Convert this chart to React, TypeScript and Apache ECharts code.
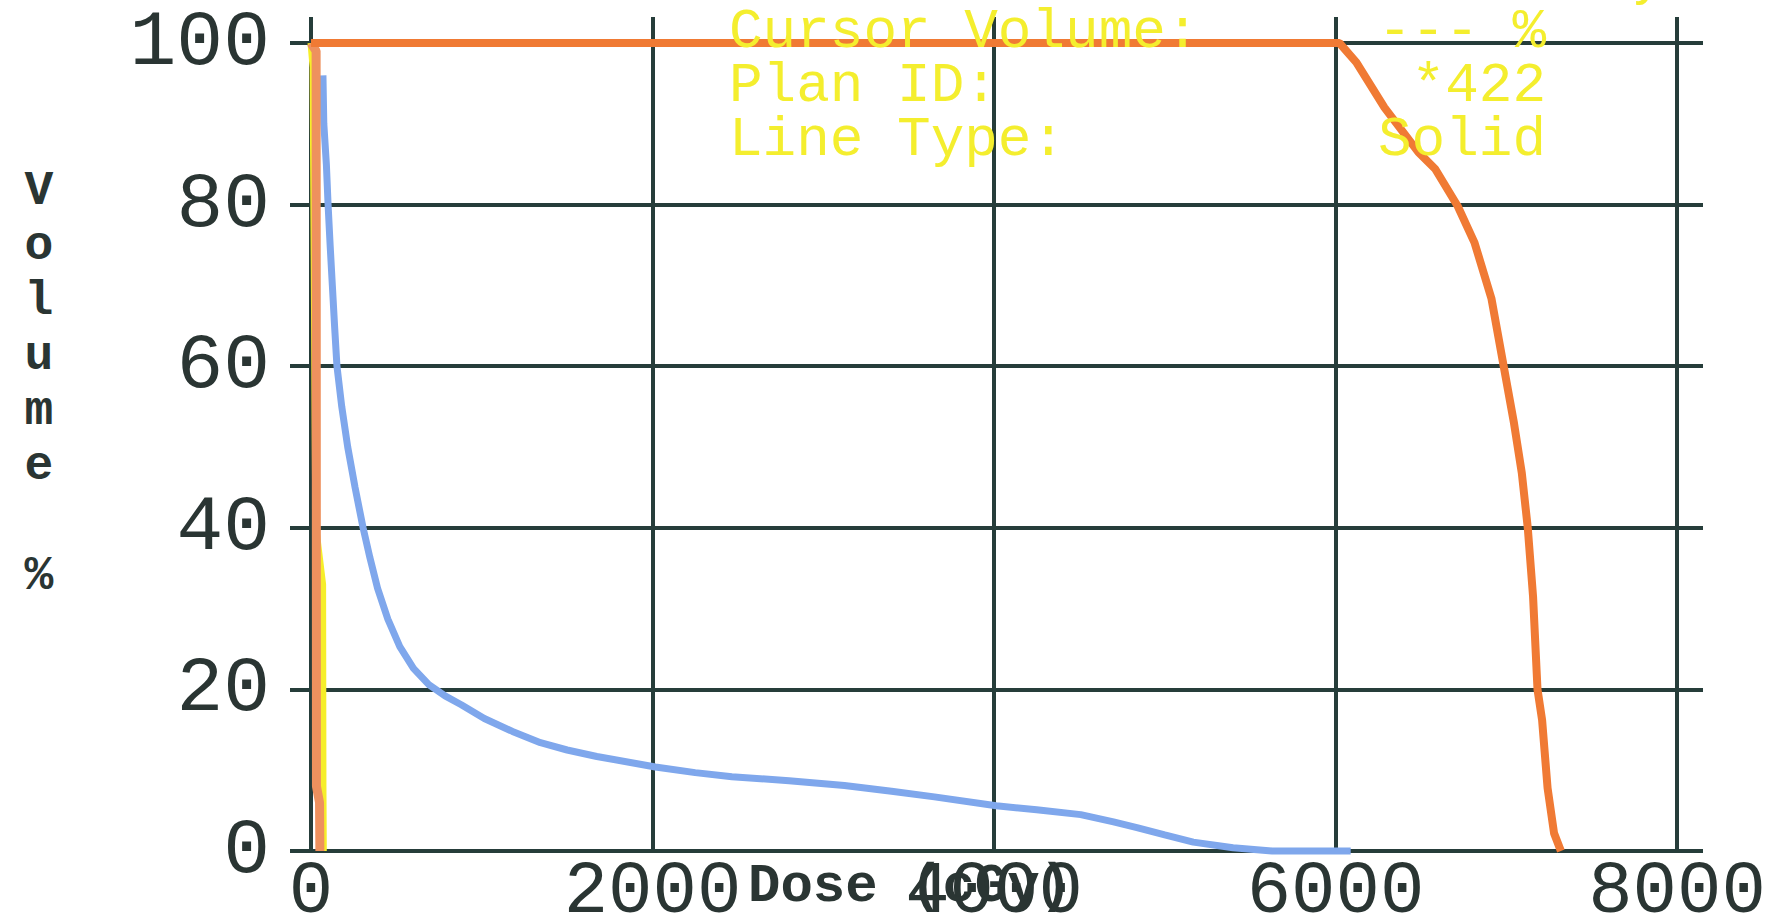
import React, { useEffect, useRef } from "react";
import * as echarts from "echarts";

// ---- data (dose in cGy, volume in %) ----
const xTicks = [0, 2000, 4000, 6000, 8000];
const yTicks = [0, 20, 40, 60, 80, 100];

const ptvDose = [0, 6023, 6122, 6287, 6485, 6584, 6716, 6814, 6913, 6985, 7045, 7091, 7126, 7157, 7183, 7210, 7242, 7280, 7320];
const ptvVolume = [100, 100, 97.6, 92, 86.5, 84.4, 79.8, 75.3, 68.4, 60, 53, 46.8, 40, 31.5, 20, 16.2, 7.8, 2.2, 0];

const lowDose = [0, 30, 32, 50, 52];
const lowVolume = [100, 99, 8, 6, 0];

const yellowDose = [0, 12, 28, 68, 70, 72];
const yellowVolume = [100, 97, 40, 33, 8, 0];

const blueDose = [70, 75, 90, 100, 112, 125, 138, 152, 180, 215, 258, 305, 345, 390, 450, 520, 600, 690, 785, 880, 1015, 1180, 1344, 1500, 1674, 2017, 2250, 2465, 2800, 3124, 3400, 3651, 4013, 4250, 4508, 4700, 4837, 5000, 5167, 5400, 5628, 6089];
const blueVolume = [96, 90, 85, 80, 75, 70, 65, 60, 55, 50, 45, 40, 36.3, 32.5, 28.7, 25.3, 22.6, 20.6, 19.2, 18.1, 16.4, 14.8, 13.4, 12.5, 11.7, 10.4, 9.7, 9.2, 8.7, 8.1, 7.4, 6.7, 5.6, 5.1, 4.5, 3.6, 2.9, 2.0, 1.1, 0.4, 0, 0];

const infoLabels = ["Cursor Dose:", "Cursor Volume:", "Plan ID:", "Line Type:"];
const infoValues = ["--- cGy", "--- %", "*422", "Solid"];

const xName = "Dose (cGy)";
const yName = "Volume %";

const zip = (xs: number[], ys: number[]) => xs.map((x, i) => [x, ys[i]]);

const GRID = "#263d3a";
const TEXT = "#2a3533";
const MONO = "'Liberation Mono', 'DejaVu Sans Mono', monospace";

export default function App() {
  const ref = useRef<HTMLDivElement>(null);
  useEffect(() => {
    if (!ref.current) return;
    const chart = echarts.init(ref.current, undefined, { renderer: "svg" });
    const rowY = [-22, 32, 86, 140];
    const graphics: any[] = [];
    infoLabels.forEach((t, i) => {
      graphics.push({
        type: "text", x: 729, y: rowY[i], z: 100,
        style: { text: t, fill: "#f4ee2e", font: `56px ${MONO}`, align: "left", verticalAlign: "middle" },
      });
      graphics.push({
        type: "text", x: i === 0 ? 1665 : 1546, y: rowY[i], z: 100,
        style: { text: infoValues[i], fill: "#f4ee2e", font: `56px ${MONO}`, align: "right", verticalAlign: "middle" },
      });
    });
    graphics.push({
      type: "text", x: 39, y: 163, z: 100,
      style: {
        text: yName.split("").map((c) => (c === " " ? "\n" : c)).join("\n").replace("\n\n\n", "\n\n"),
        fill: TEXT, font: `bold 48px ${MONO}`, align: "center", verticalAlign: "top", lineHeight: 55,
      },
    });
    graphics.push({
      type: "text", x: 748, y: 886, z: 100,
      style: { text: xName, fill: TEXT, font: `bold 54px ${MONO}`, align: "left", verticalAlign: "middle" },
    });

    const tickStyle = { color: GRID, width: 4 };
    chart.setOption({
      animation: false,
      backgroundColor: "#ffffff",
      grid: { left: 311, right: 88, top: 43, bottom: 64, containLabel: false, outerBoundsMode: "none" },
      xAxis: [
        {
          type: "value", min: xTicks[0], max: xTicks[xTicks.length - 1], interval: xTicks[1] - xTicks[0],
          axisLine: { show: false, onZero: false }, axisTick: { show: false },
          splitLine: { show: true, lineStyle: tickStyle },
          axisLabel: { fontSize: 74, fontFamily: MONO, color: TEXT, margin: 4, formatter: (v: number) => String(v) },
        },
        {
          type: "value", position: "top", min: xTicks[0], max: xTicks[xTicks.length - 1], interval: xTicks[1] - xTicks[0],
          axisLine: { show: false, onZero: false }, axisTick: { show: true, inside: false, length: 26, lineStyle: tickStyle },
          splitLine: { show: false }, axisLabel: { show: false },
        },
      ],
      yAxis: [
        {
          type: "value", min: yTicks[0], max: yTicks[yTicks.length - 1], interval: yTicks[1] - yTicks[0],
          axisLine: { show: false, onZero: false }, axisTick: { show: true, length: 21, lineStyle: tickStyle },
          splitLine: { show: true, lineStyle: tickStyle },
          axisLabel: { fontSize: 78, fontFamily: MONO, color: TEXT, margin: 41 },
        },
        {
          type: "value", position: "right", min: yTicks[0], max: yTicks[yTicks.length - 1], interval: yTicks[1] - yTicks[0],
          axisLine: { show: false, onZero: false }, axisTick: { show: true, inside: false, length: 26, lineStyle: tickStyle },
          splitLine: { show: false }, axisLabel: { show: false },
        },
      ],
      series: [
        {
          name: "Blue", type: "line", data: zip(blueDose, blueVolume), showSymbol: false, clip: false,
          lineStyle: { color: "#7fa7ec", width: 7 }, z: 2,
        },
        {
          name: "Yellow", type: "line", data: zip(yellowDose, yellowVolume), showSymbol: false, clip: false,
          lineStyle: { color: "#f6ee2a", width: 7 }, z: 3,
        },
        {
          name: "Low", type: "line", data: zip(lowDose, lowVolume), showSymbol: false, clip: false,
          lineStyle: { color: "#ee915e", width: 9 }, z: 4,
        },
        {
          name: "PTV", type: "line", data: zip(ptvDose, ptvVolume), showSymbol: false, clip: false,
          lineStyle: { color: "#f07a34", width: 8 }, z: 5,
        },
      ],
      graphic: graphics,
    });
    return () => chart.dispose();
  }, []);
  return <div ref={ref} style={{ position: "fixed", left: 0, top: 0, width: 1765, height: 915 }} />;
}
